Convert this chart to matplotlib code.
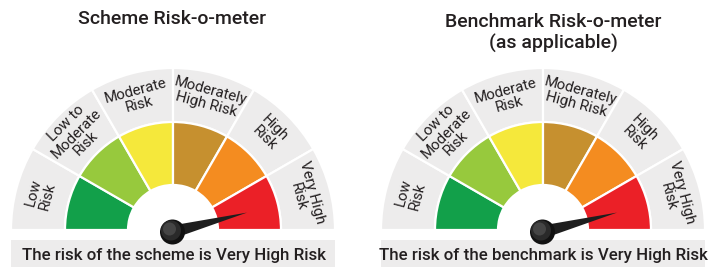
import numpy as np
import matplotlib
matplotlib.use("Agg")
import matplotlib.pyplot as plt
from matplotlib.patches import Wedge, Rectangle, Circle, Polygon

# risk levels, colours and labels
levels = ["Low\nRisk", "Low to\nModerate\nRisk", "Moderate\nRisk",
          "Moderately\nHigh Risk", "High\nRisk", "Very High\nRisk"]
level_colors = ["#12A04A", "#97C93D", "#F5E83B", "#C6902F", "#F48C20", "#EB2027"]
titles = ["Scheme Risk-o-meter", "Benchmark Risk-o-meter\n(as applicable)"]
captions = ["The risk of the scheme is Very High Risk",
            "The risk of the benchmark is Very High Risk"]
needle_level = [5, 5]        # index into levels
needle_angle = [14.6, 14.6]  # degrees

W, H = 716, 267
fig = plt.figure(figsize=(W / 100, H / 100), dpi=100)
ax = fig.add_axes([0, 0, 1, 1])
ax.set_xlim(0, W)
ax.set_ylim(0, H)
ax.set_aspect("equal")
ax.axis("off")

font = "Roboto"
dark = "#231F20"
gray = "#EDECEC"

centers = [(173, 37), (543, 37)]
title_pos = [(172.5, 247.5), (553.5, 234)]
caption_x = [174, 543]

r_in, r_col, r_out = 45, 108, 162

for k, (cx, cy) in enumerate(centers):
    n = len(levels)
    step = 180 / n
    for i in range(n):
        a0 = 180 - (i + 1) * step
        a1 = 180 - i * step
        ax.add_patch(Wedge((cx, cy), r_out, a0, a1, width=r_out - r_col,
                           facecolor=gray, edgecolor="white", lw=1.6))
        ax.add_patch(Wedge((cx, cy), r_col, a0, a1, width=r_col - r_in,
                           facecolor=level_colors[i], edgecolor="white", lw=1.6))
        am = np.deg2rad((a0 + a1) / 2)
        rl = 137
        ax.text(cx + rl * np.cos(am), cy + rl * np.sin(am), levels[i],
                rotation=np.rad2deg(am) - 90, ha="center", va="center",
                rotation_mode="anchor", fontsize=10.8, family=font,
                color=dark, linespacing=1.0)

    # caption bar
    ax.add_patch(Rectangle((cx - 162, 0), 324, 27, facecolor=gray,
                           edgecolor="none"))
    ax.text(caption_x[k], 11.5, captions[k], ha="center", va="center",
            fontsize=12.2, family=font, weight="medium", color=dark)

    # needle
    th = np.deg2rad(needle_angle[k])
    hx, hy = cx - 0.5, cy - 2
    L, hw = 77, 6.5
    tip = (hx + L * np.cos(th), hy + L * np.sin(th))
    p1 = (hx - hw * np.sin(th), hy + hw * np.cos(th))
    p2 = (hx + hw * np.sin(th), hy - hw * np.cos(th))
    ax.add_patch(Polygon([p1, tip, p2], closed=True, facecolor="#1E1E1E",
                         edgecolor="none", zorder=5))
    # hub with a simple shaded look
    ax.add_patch(Circle((hx, hy), 12.5, facecolor="#111111", zorder=6))
    ax.add_patch(Circle((hx - 1.5, hy + 1.5), 10, facecolor="#2A2A2A", zorder=6))
    ax.add_patch(Circle((hx - 3, hy + 3), 6.5, facecolor="#454545", zorder=6))

    ax.text(title_pos[k][0], title_pos[k][1], titles[k], ha="center",
            va="center", fontsize=14, family=font, weight="medium",
            color=dark, linespacing=1.25)

fig.savefig("out.png", dpi=100, facecolor="white")
